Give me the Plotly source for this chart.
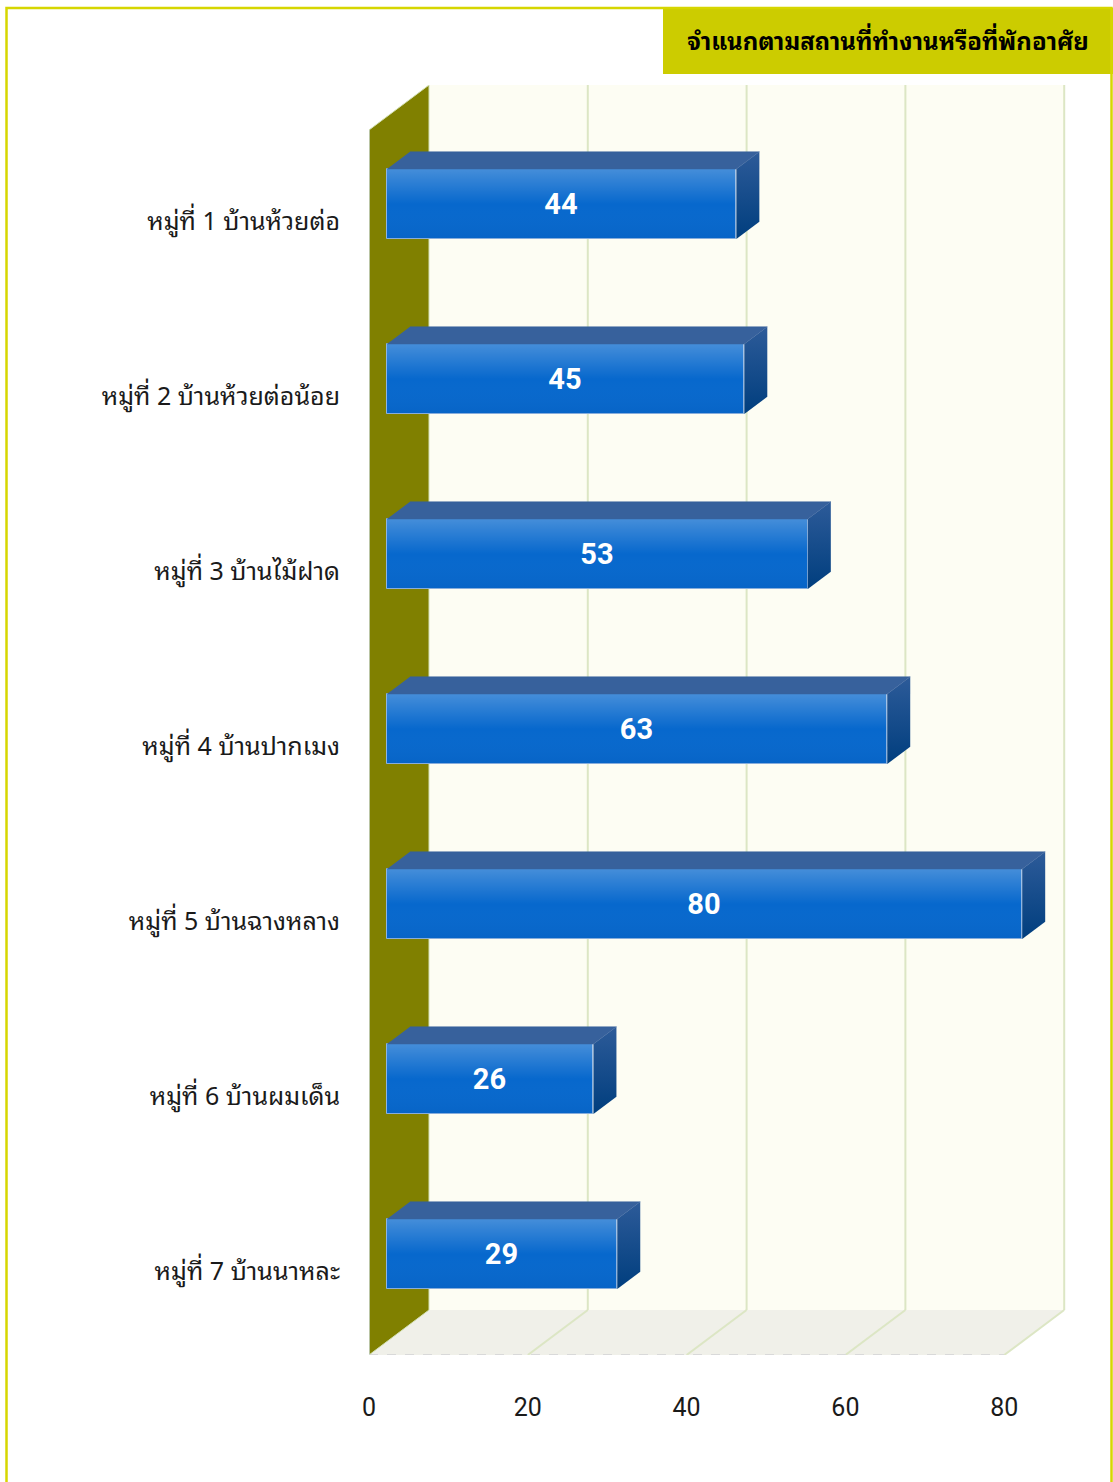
import plotly.graph_objects as go

# ---------------- data ----------------
categories = [
    "หมู่ที่ 1 บ้านห้วยต่อ",
    "หมู่ที่ 2 บ้านห้วยต่อน้อย",
    "หมู่ที่ 3 บ้านไม้ฝาด",
    "หมู่ที่ 4 บ้านปากเมง",
    "หมู่ที่ 5 บ้านฉางหลาง",
    "หมู่ที่ 6 บ้านผมเด็น",
    "หมู่ที่ 7 บ้านนาหละ",
]
values = [44, 45, 53, 63, 80, 26, 29]
x_ticks = [0, 20, 40, 60, 80]
title_text = "จำแนกตามสถานที่ทำงานหรือที่พักอาศัย"

THAI_FONT = "Noto Sans Thai Looped, Noto Sans Thai, Noto Sans, sans-serif"

# ---------------- layout geometry ----------------
FIG_W, FIG_H = 1113, 1482
M_L, M_R, M_T, M_B = 369, 43, 85, 127
PLOT_W = FIG_W - M_L - M_R
PLOT_H = FIG_H - M_T - M_B
PX_PER_X = 7.94
PX_PER_CAT = 175.0
DEPTH_PX_X, DEPTH_PX_Y = 60.0, 45.0

X_MAX = PLOT_W / PX_PER_X
DX = DEPTH_PX_X / PX_PER_X
DY = -DEPTH_PX_Y / PX_PER_CAT
Y_TOP = -0.5
Y_BOT = len(categories) - 0.5
X_END = x_ticks[-1]
LABEL_SHIFT = 4.0 / PX_PER_CAT

F0 = 18.0 / 60.0
F1 = F0 + 23.0 / 60.0
BAR_W = 0.4

base = F0 * DX
ypos = [i + F0 * DY for i in range(len(categories))]
ddx = (F1 - F0) * DX
ddy = (F1 - F0) * DY


def px2paper_x(px):
    return (px - M_L) / PLOT_W


def px2paper_y(py):
    return (FIG_H - M_B - py) / PLOT_H


fig = go.Figure()

fig.add_trace(go.Bar(
    x=values, y=ypos, base=[base] * len(values), orientation="h",
    width=BAR_W,
    marker=dict(color="#0768CD", line=dict(color="#8DB4E2", width=1)),
    text=[str(v) for v in values], textposition="inside",
    insidetextanchor="middle", textangle=0, constraintext="none",
    textfont=dict(family="Roboto", size=29, color="white", weight="bold"),
    hoverinfo="skip", showlegend=False,
))

tx, ty = [], []
for v, yc in zip(values, ypos):
    yt = yc - BAR_W / 2
    yb = yc + BAR_W / 2
    x1 = base + v
    tx += [base, x1, x1 + ddx, base + ddx, None]
    ty += [yt, yt, yt + ddy, yt + ddy, None]
    # front-face highlight
    fig.add_trace(go.Scatter(
        x=[base, x1, x1, base], y=[yt, yt, yb, yb], mode="lines", fill="toself",
        line=dict(width=0),
        fillgradient=dict(type="vertical", start=yt, stop=yb,
                          colorscale=[[0, "rgba(255,255,255,0.25)"], [0.5, "rgba(255,255,255,0)"],
                                      [1, "rgba(0,0,40,0.04)"]]),
        hoverinfo="skip", showlegend=False,
    ))
    # side face
    fig.add_trace(go.Scatter(
        x=[x1, x1 + ddx, x1 + ddx, x1], y=[yt, yt + ddy, yb + ddy, yb], mode="lines", fill="toself",
        line=dict(width=0),
        fillgradient=dict(type="vertical", start=yt + ddy, stop=yb,
                          colorscale=[[0, "#2D5B99"], [1, "#003E7E"]]),
        hoverinfo="skip", showlegend=False,
    ))

fig.add_trace(go.Scatter(
    x=tx, y=ty, mode="lines", fill="toself", fillcolor="#37619C",
    line=dict(width=0.5, color="#37619C"), hoverinfo="skip", showlegend=False,
))

shapes = []
shapes.append(dict(type="rect", xref="x", yref="y", layer="below",
                   x0=DX, x1=X_END + DX, y0=Y_TOP + DY, y1=Y_BOT + DY,
                   fillcolor="#FDFDF3", line=dict(width=0)))
shapes.append(dict(type="path", xref="x", yref="y", layer="below",
                   path=f"M 0,{Y_BOT} L {X_END},{Y_BOT} L {X_END + DX},{Y_BOT + DY} L {DX},{Y_BOT + DY} Z",
                   fillcolor="#F0F0E9", line=dict(width=0)))
for xv in x_ticks[1:]:
    shapes.append(dict(type="line", xref="x", yref="y", layer="below",
                       x0=xv + DX, x1=xv + DX, y0=Y_TOP + DY, y1=Y_BOT + DY,
                       line=dict(color="#DCE6C4", width=2)))
    shapes.append(dict(type="line", xref="x", yref="y", layer="below",
                       x0=xv, x1=xv + DX, y0=Y_BOT, y1=Y_BOT + DY,
                       line=dict(color="#DCE6C4", width=2)))
shapes.append(dict(type="line", xref="x", yref="y", layer="below",
                   x0=0, x1=X_END, y0=Y_BOT, y1=Y_BOT,
                   line=dict(color="#D9D9D9", width=2, dash="dash")))
shapes.append(dict(type="path", xref="x", yref="y", layer="below",
                   path=f"M 0,{Y_TOP} L {DX},{Y_TOP + DY} L {DX},{Y_BOT + DY} L 0,{Y_BOT} Z",
                   fillcolor="#808000", line=dict(color="#D4E1B5", width=1)))
shapes.append(dict(type="line", xref="x", yref="y", layer="below",
                   x0=0, x1=0, y0=Y_TOP, y1=Y_BOT,
                   line=dict(color="#C9D9EE", width=1)))
shapes.append(dict(type="rect", xref="paper", yref="paper", layer="above",
                   x0=px2paper_x(663), x1=px2paper_x(1113),
                   y0=px2paper_y(74), y1=px2paper_y(8),
                   fillcolor="#CCCC00", line=dict(width=0)))
shapes.append(dict(type="rect", xref="paper", yref="paper", layer="above",
                   x0=px2paper_x(6.5), x1=px2paper_x(1111.5),
                   y0=px2paper_y(1490), y1=px2paper_y(8),
                   fillcolor="rgba(0,0,0,0)", line=dict(color="#D6D600", width=2.5)))

fig.update_layout(
    width=FIG_W, height=FIG_H,
    margin=dict(l=M_L, r=M_R, t=M_T, b=M_B),
    paper_bgcolor="white", plot_bgcolor="white",
    shapes=shapes,
    bargap=0,
    title=dict(text=f"<b>{title_text}</b>", x=888 / FIG_W, y=1 - 42 / FIG_H,
               xanchor="center", yanchor="middle", xref="container", yref="container",
               font=dict(family=THAI_FONT, size=24, color="black")),
    xaxis=dict(range=[0, X_MAX], tickvals=x_ticks, ticktext=[str(t) for t in x_ticks],
               showgrid=False, zeroline=False, showline=False, ticks="",
               ticklabelstandoff=35,
               tickfont=dict(family="Roboto", size=25, color="#1a1a1a")),
    yaxis=dict(range=[Y_BOT, Y_TOP + DY],
               tickvals=[i + LABEL_SHIFT for i in range(len(categories))],
               ticktext=categories, showgrid=False, zeroline=False, showline=False,
               ticks="", ticklabelstandoff=28,
               tickfont=dict(family=THAI_FONT, size=25, color="#1a1a1a")),
)

fig.write_html("out.html", config={"displayModeBar": False},
               post_script="document.body.style.margin='0';")
